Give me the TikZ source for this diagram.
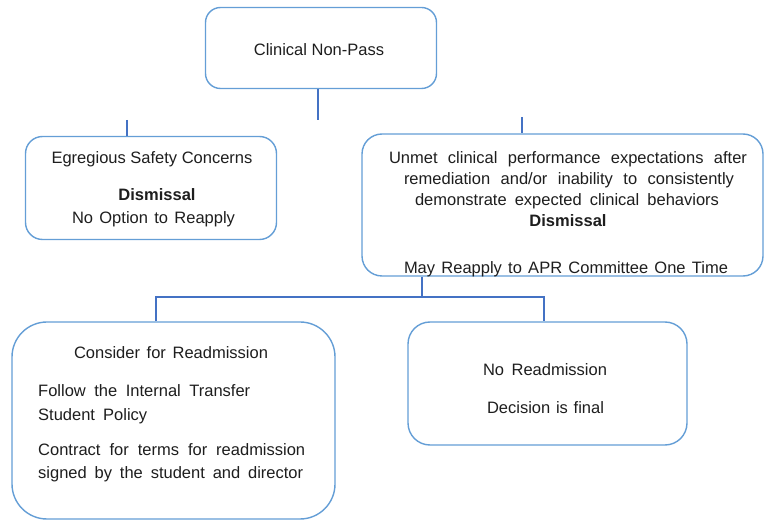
\documentclass[tikz,border=0pt]{standalone}
\usepackage{fontspec}
\setmainfont{Liberation Sans}
\definecolor{boxblue}{RGB}{100,158,214}
\definecolor{linkblue}{RGB}{68,114,196}
\definecolor{inktext}{RGB}{30,30,30}
\tikzset{
  boxnode/.style={draw=boxblue, line width=1.4pt, fill=white, inner sep=0pt},
  txt/.style={font=\fontsize{16.5}{20}\selectfont, inner sep=0pt, anchor=base, text=inktext},
  txtb/.style={txt, font=\fontsize{16.5}{20}\selectfont\bfseries},
  txtl/.style={txt, anchor=base west},
  conn/.style={draw=linkblue, line width=2.6pt},
  tick/.style={draw=linkblue, line width=2pt}
}
\begin{document}
\begin{tikzpicture}[x=1pt,y=-1pt]
\useasboundingbox (0,0) rectangle (764,521);
% boxes
\node[boxnode, rounded corners=15pt, minimum width=231pt, minimum height=81pt] (top) at (321,48) {};
\node[boxnode, rounded corners=17pt, minimum width=251pt, minimum height=103pt] (left) at (151,188) {};
\node[boxnode, rounded corners=20pt, minimum width=401pt, minimum height=142pt] (right) at (562.5,205) {};
\node[boxnode, rounded corners=35pt, minimum width=323pt, minimum height=197pt] (bl) at (173.5,420.5) {};
\node[boxnode, rounded corners=22pt, minimum width=279pt, minimum height=123pt] (br) at (547.5,383.5) {};
% texts
\node[txt] (t0) at (319,56) {Clinical Non-Pass};
\node[txt] (l1) at (152,164) {Egregious Safety Concerns};
\node[txtb] (l2) at (157,201) {Dismissal};
\node[txt] (l3) at (153.5,224) {\makebox[163pt][s]{No Option to Reapply}};
\node[txt] (r1) at (568,164) {\makebox[358pt][s]{Unmet clinical performance expectations after}};
\node[txt] (r2) at (569,185) {\makebox[330pt][s]{remediation and/or inability to consistently}};
\node[txt] (r3) at (567,206) {\makebox[304pt][s]{demonstrate expected clinical behaviors}};
\node[txtb] (r4) at (568,227) {Dismissal};
\node[txt] (r5) at (566,274) {\makebox[324pt][s]{May Reapply to APR Committee One Time}};
\node[txt] (b1t) at (171,359) {\makebox[194pt][s]{Consider for Readmission}};
\node[txtl] (b2t) at (38,397) {\makebox[212pt][s]{Follow the Internal Transfer}};
\node[txtl] (b3t) at (38,421) {\makebox[109pt][s]{Student Policy}};
\node[txtl] (b4t) at (38,456) {\makebox[267pt][s]{Contract for terms for readmission}};
\node[txtl] (b5t) at (38,479) {\makebox[265pt][s]{signed by the student and director}};
\node[txt] (c1) at (545,376) {\makebox[124pt][s]{No Readmission}};
\node[txt] (c2) at (545.5,414) {\makebox[117pt][s]{Decision is final}};
% connectors
\coordinate (j1) at (318,120);
\coordinate (k1) at (127,120);
\coordinate (k2) at (522,117);
\draw[conn] (top.south -| j1) -- (j1);
\draw[tick] (k1) -- (k1 |- left.north);
\draw[tick] (k2) -- (k2 |- right.north);
\coordinate (j2) at (422,297);
\coordinate (m1) at (156,297);
\coordinate (m2) at (544,297);
\draw[conn, line width=2.2pt] (right.south -| j2) -- (j2);
\draw[conn, line width=2.2pt, line join=miter] (m1 |- bl.north) -- (m1) -- (m2) -- (m2 |- br.north);
\end{tikzpicture}
\end{document}
